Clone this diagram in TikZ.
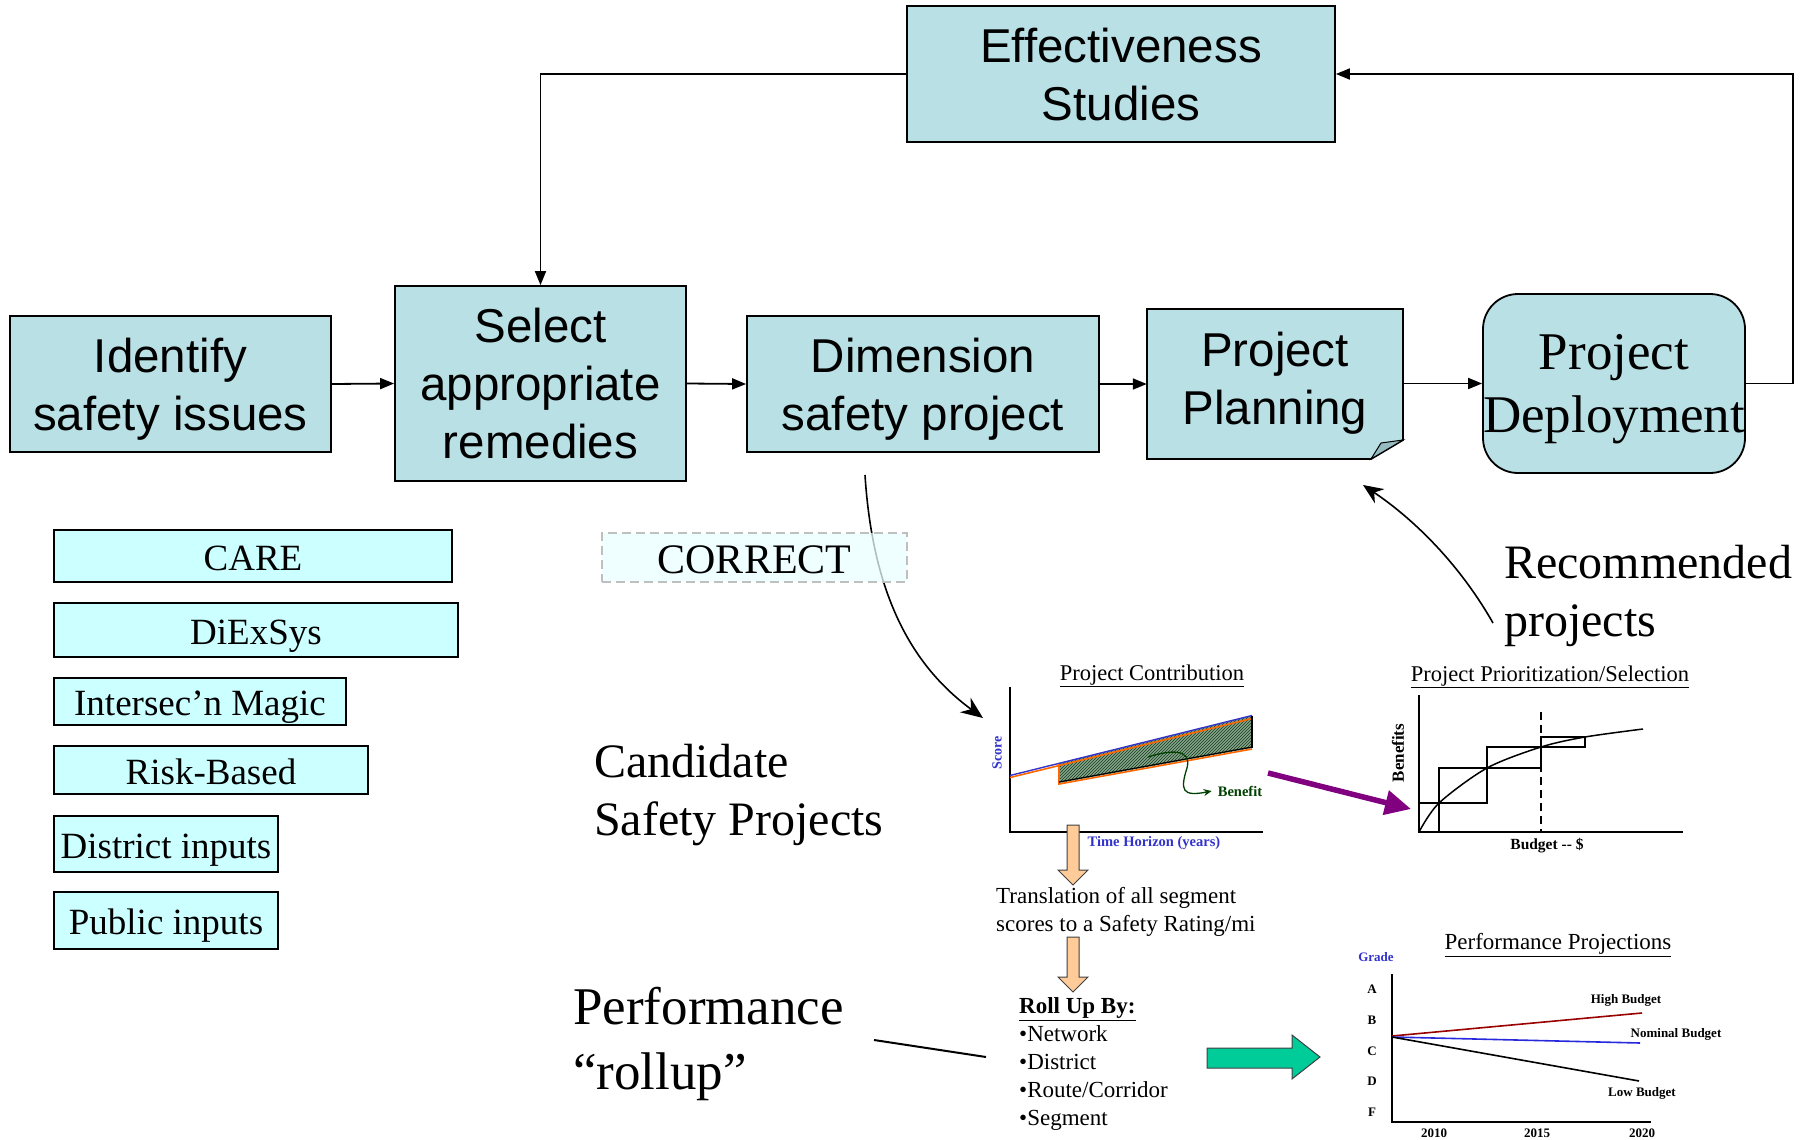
\documentclass[tikz,border=0pt]{standalone}
\usepackage{fontspec}
\setmainfont{Liberation Serif}
\newfontfamily\arialf{Liberation Sans}
\usetikzlibrary{arrows.meta,patterns}
\definecolor{flowfill}{RGB}{185,224,228}
\definecolor{foldfill}{RGB}{150,188,194}
\definecolor{toolfill}{RGB}{204,255,255}
\definecolor{corrfill}{RGB}{234,255,255}
\definecolor{greenarr}{RGB}{0,204,153}
\definecolor{peach}{RGB}{255,204,153}
\definecolor{purp}{RGB}{128,0,128}
\definecolor{dred}{RGB}{153,0,0}
\definecolor{axblue}{RGB}{51,51,204}
\definecolor{nomblue}{RGB}{40,40,220}
\definecolor{orng}{RGB}{255,102,0}
\definecolor{dgreen}{RGB}{0,64,0}
\definecolor{hatchbg}{RGB}{135,165,140}
\definecolor{hatchfg}{RGB}{20,60,30}
\tikzset{
  flow/.style={draw, line width=1.8pt, fill=flowfill, inner sep=0pt, align=center, text depth=0pt,
    font=\arialf\fontsize{47.5}{58}\selectfont},
  tool/.style={draw, line width=1.5pt, fill=toolfill, inner sep=0pt, text height=28.5pt, text depth=0pt,
    font=\fontsize{37}{44}\selectfont},
  conn/.style={line width=1.8pt, -{Triangle[length=14pt,width=11pt]}},
  curvearr/.style={line width=1.6pt, -{Stealth[length=22pt,width=18pt]}},
  bigtxt/.style={anchor=west, align=left, inner sep=0pt, text depth=0pt, font=\fontsize{48}{58}\selectfont},
  ctitle/.style={inner sep=0pt, font=\fontsize{22.5}{27}\selectfont},
  small/.style={inner sep=0pt, font=\bfseries\fontsize{13}{15}\selectfont},
  axis/.style={line width=1.5pt},
  blockarr/.style={draw=black!75, line width=1pt},
}
\begin{document}
\begin{tikzpicture}[x=1pt,y=-1pt]
\useasboundingbox (0,0) rectangle (1808,1140);

% ---- flow boxes ----
\node[flow, minimum width=428, minimum height=136] (eff) at (1121,74) {Effectiveness\\Studies};
\node[flow, minimum width=321, minimum height=136] (ident) at (170.5,384) {Identify\\safety issues};
\node[flow, minimum width=291, minimum height=195] (sel) at (540.5,383.5) {Select\\appropriate\\remedies};
\node[flow, minimum width=352, minimum height=136] (dim) at (923,384) {Dimension\\safety project};
\draw[line width=1.8pt, fill=flowfill] (1147,309) -- (1403,309) -- (1403,440) -- (1371,459) -- (1147,459) -- cycle;
\draw[line width=1pt, fill=foldfill] (1371,459) -- (1403,440) -- (1381,443) -- cycle;
\node[inner sep=0pt, minimum width=256, minimum height=150, align=center, text depth=0pt,
  font=\arialf\fontsize{47.5}{58}\selectfont] (plan) at (1275,378) {Project\\Planning};
\node[flow, rounded corners=35pt, minimum width=262, minimum height=179,
  font=\fontsize{53}{63}\selectfont] (dep) at (1614,383.5) {Project\\Deployment};

% ---- flow connectors ----
\draw[conn] (ident.east) -- (sel.west);
\draw[conn] (sel.east) -- (dim.west);
\draw[conn] (dim.east) -- (plan.west |- dim.east);
\draw[conn] (plan.east |- dep.west) -- (dep.west);
\coordinate (rt) at (1793,74);
\draw[conn] (dep.east) -| (rt) -- (eff.east);
\draw[conn] (eff.west) -| (sel.north);

% ---- tool boxes ----
\node[tool, minimum width=398, minimum height=52] (care) at (253,556) {CARE};
\node[tool, minimum width=404, minimum height=54] (diex) at (256,630) {DiExSys};
\node[tool, minimum width=292, minimum height=47] (magic) at (200,701.5) {Intersec’n Magic};
\node[tool, minimum width=314, minimum height=48] (risk) at (211,770) {Risk-Based};
\node[tool, minimum width=224, minimum height=56] (dist) at (166,844) {District inputs};
\node[tool, minimum width=224, minimum height=57] (pub) at (166,920.5) {Public inputs};

% ---- curve from Dimension to chart ----
\coordinate (c1s) at (865,475);
\coordinate (c1e) at (983,718);
\draw[curvearr] (c1s) .. controls (873,600) and (915,668) .. (c1e);
\node[draw=black!25, dash pattern=on 9pt off 5pt, line width=1.5pt, fill=corrfill, fill opacity=0.75, text opacity=1,
  inner sep=0pt, minimum width=305, minimum height=49, text height=31pt, text depth=0pt,
  font=\fontsize{42}{48}\selectfont] (corr) at (754.5,557.5) {CORRECT};

% ---- big labels ----
\node[bigtxt] (cand) at (594,790) {Candidate\\Safety Projects};
\node[bigtxt] (reco) at (1504,591) {Recommended\\projects};
\node[bigtxt, font=\fontsize{53}{65}\selectfont] (perf) at (573,1038) {Performance\\“rollup”};

\coordinate (r1) at (1493,623);
\coordinate (r2) at (1363,485);
\draw[line width=1.6pt, -{Stealth[length=20pt,width=17pt]}] (r1) .. controls (1460,565) and (1415,520) .. (r2);
\coordinate (p1) at (874,1040);
\coordinate (p2) at (986,1057);
\draw[line width=2pt] (p1) -- (p2);

% ---- chart 1: Project Contribution ----
\node[ctitle] (t1) at (1152,676) {\underline{Project Contribution}};
\fill[hatchbg] (1059,763) -- (1252,716) -- (1252,748) -- (1059,783) -- cycle;
\fill[pattern=north east lines, pattern color=hatchfg] (1059,763) -- (1252,716) -- (1252,748) -- (1059,783) -- cycle;
\draw[axis] (1010,687) -- (1010,832) -- (1263,832);
\draw[orng, line width=1.6pt] (1010,777.5) -- (1252,718.5);
\draw[axblue, line width=1.4pt] (1010,775.5) -- (1252,715.5);
\draw[orng, line width=1.6pt] (1059,764) -- (1059,784) -- (1252,749);
\draw[black, line width=1.2pt] (1059,782) -- (1252,747);
\draw[black, line width=1.4pt] (1252,715.5) -- (1252,748);
\node[small, text=axblue, rotate=90, font=\bfseries\fontsize{14}{16}\selectfont] (score) at (997,753) {Score};
\node[small, text=axblue, font=\bfseries\fontsize{14.5}{16}\selectfont] (timeh) at (1154,843) {Time Horizon (years)};
\node[small, text=dgreen, font=\bfseries\fontsize{14.5}{16}\selectfont] (bene) at (1240,791) {Benefit};
\draw[dgreen, line width=1.3pt, -{Stealth[length=8pt,width=7pt]}] (1148,757) .. controls (1170,750) and (1192,748) .. (1187,768) .. controls (1180,790) and (1182,797) .. ([xshift=-6pt]bene.west);

% ---- peach arrows ----
\draw[blockarr, fill=peach] (1067,825) -- (1079,825) -- (1079,870) -- (1088,870) -- (1073,885) -- (1058,870) -- (1067,870) -- cycle;
\node[anchor=west, align=left, inner sep=0pt, font=\fontsize{23}{28.5}\selectfont] (trans) at (996,912) {Translation of all segment\\scores to a Safety Rating/mi};
\draw[blockarr, fill=peach] (1067,937) -- (1079,937) -- (1079,977) -- (1088,977) -- (1073,992) -- (1058,977) -- (1067,977) -- cycle;
\node[anchor=west, align=left, inner sep=0pt, font=\fontsize{23}{28}\selectfont] (roll) at (1019,1064)
  {\textbf{\underline{Roll Up By:}}\\•Network\\•District\\•Route/Corridor\\•Segment};

% ---- green arrow ----
\draw[blockarr, fill=greenarr] (1207,1048) -- (1292,1048) -- (1292,1035) -- (1320,1057) -- (1292,1079) -- (1292,1068) -- (1207,1068) -- cycle;

% ---- purple arrow ----
\coordinate (pa1) at (1268,773);
\coordinate (pa2) at (1411,809);
\draw[purp, line width=5.5pt, -{Triangle[length=26pt,width=24pt]}] (pa1) -- (pa2);

% ---- chart 2: Prioritization ----
\node[ctitle] (t2) at (1550,677) {\underline{Project Prioritization/Selection}};
\draw[axis] (1419,695) -- (1419,832) -- (1683,832);
\draw[line width=1.5pt] plot[smooth] coordinates {(1419,832) (1439,803) (1487,768) (1541,747) (1585,737) (1643,729)};
\draw[line width=1.5pt] (1439,832) -- (1439,768) -- (1541,768);
\draw[line width=1.5pt] (1419,803) -- (1487,803) -- (1487,747) -- (1585,747) -- (1585,737) -- (1541,737) -- (1541,768);
\draw[line width=1.5pt, dash pattern=on 8pt off 5pt] (1541,712) -- (1541,832);
\node[small, rotate=90, font=\bfseries\fontsize{17}{19}\selectfont] (benf) at (1398,753) {Benefits};
\node[small, font=\bfseries\fontsize{15.5}{18}\selectfont] (budg) at (1547,846) {Budget -{}- \$};

% ---- chart 3: Performance Projections ----
\node[ctitle, font=\fontsize{23}{27}\selectfont] (t3) at (1558,945) {\underline{Performance Projections}};
\node[small, text=axblue] (grade) at (1376,957) {Grade};
\draw[axis] (1392,974) -- (1392,1122) -- (1651,1122);
\node[small] (gA) at (1372,989) {A};
\node[small] (gB) at (1372,1020) {B};
\node[small] (gC) at (1372,1051) {C};
\node[small] (gD) at (1372,1081) {D};
\node[small] (gF) at (1372,1112) {F};
\node[small] (y1) at (1434,1133) {2010};
\node[small] (y2) at (1537,1133) {2015};
\node[small] (y3) at (1642,1133) {2020};
\draw[dred, line width=1.6pt] (1392,1036) -- (1642,1013);
\draw[nomblue, line width=1.6pt] (1392,1037) -- (1640,1043);
\draw[black, line width=1.6pt] (1392,1037) -- (1639,1081);
\node[small] (hb) at (1626,1000) {High Budget};
\node[small] (nb) at (1676,1034) {Nominal Budget};
\node[small] (lb) at (1642,1093) {Low Budget};
\end{tikzpicture}
\end{document}
